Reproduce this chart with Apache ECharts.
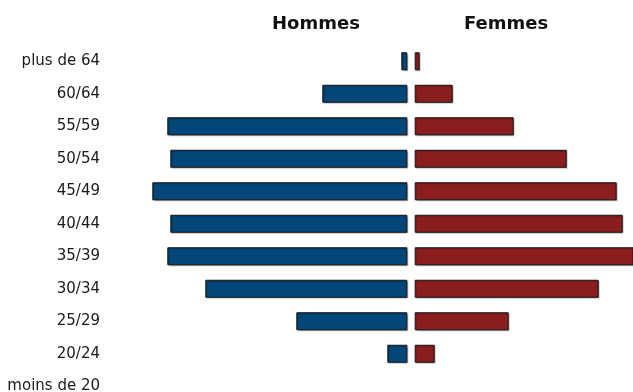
<!DOCTYPE html>
<html>
<head>
<meta charset="utf-8">
<script src="https://cdn.jsdelivr.net/npm/echarts@6/dist/echarts.min.js"></script>
<style>
  html, body { margin: 0; padding: 0; background: #fff; }
  #chart { width: 633px; height: 392px; }
</style>
</head>
<body>
<div id="chart"></div>
<script>
// Age groups, bottom to top
const categories = ['moins de 20', '20/24', '25/29', '30/34', '35/39', '40/44', '45/49', '50/54', '55/59', '60/64', 'plus de 64'];
// Values (common scale, same units for both sides)
const hommes = [0, 20, 111, 202, 240, 237, 255, 237, 240, 85, 6];
const femmes = [0, 20, 94, 184, 220, 208, 202, 152, 99, 38, 5];
const seriesTitles = ['Hommes', 'Femmes'];

const chart = echarts.init(document.getElementById('chart'), null, { renderer: 'canvas' });

const FONT = 'DejaVu Sans';
const GRID_TOP = 45;
const GRID_H = 357.5;
const LEFT_X = 110, LEFT_W = 297.3;
const RIGHT_X = 414.7, RIGHT_W = 218.3;

const barStyle = (color) => ({
  color: color,
  borderColor: '#151515',
  borderWidth: 1,
  shadowColor: 'rgba(0,0,0,0.25)',
  shadowOffsetX: 1,
  shadowOffsetY: 1,
  shadowBlur: 1
});
const toBars = (arr) => arr.map(v => (v === 0 ? '-' : v));

chart.setOption({
  animation: false,
  backgroundColor: '#ffffff',
  grid: [
    { left: LEFT_X, top: GRID_TOP, width: LEFT_W, height: GRID_H, outerBoundsMode: 'none', containLabel: false },
    { left: RIGHT_X, top: GRID_TOP, width: RIGHT_W, height: GRID_H, outerBoundsMode: 'none', containLabel: false }
  ],
  xAxis: [
    { gridIndex: 0, type: 'value', min: 0, max: LEFT_W, inverse: true, show: false },
    { gridIndex: 1, type: 'value', min: 0, max: RIGHT_W, show: false }
  ],
  yAxis: [
    {
      gridIndex: 0, type: 'category', data: categories, position: 'left',
      axisLine: { show: false }, axisTick: { show: false }, splitLine: { show: false },
      axisLabel: { margin: 10, color: '#1a1a1a', fontFamily: FONT, fontSize: 15 }
    },
    {
      gridIndex: 1, type: 'category', data: categories, show: false
    }
  ],
  graphic: [
    { type: 'text', left: 272, top: 15, style: { text: seriesTitles[0], font: 'bold 18px "DejaVu Sans"', fill: '#111' } },
    { type: 'text', left: 464, top: 15, style: { text: seriesTitles[1], font: 'bold 18px "DejaVu Sans"', fill: '#111' } }
  ],
  series: [
    {
      name: seriesTitles[0], type: 'bar', xAxisIndex: 0, yAxisIndex: 0,
      data: toBars(hommes), barWidth: 18, itemStyle: barStyle('#03467a')
    },
    {
      name: seriesTitles[1], type: 'bar', xAxisIndex: 1, yAxisIndex: 1,
      data: toBars(femmes), barWidth: 18, itemStyle: barStyle('#8a1e1f')
    }
  ]
});
</script>
</body>
</html>
